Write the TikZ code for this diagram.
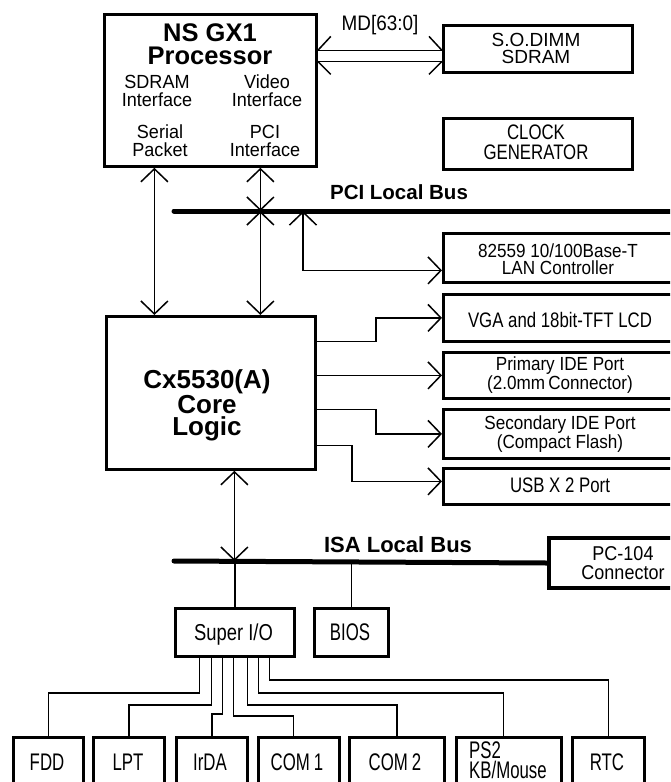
\documentclass[tikz,border=0pt]{standalone}
\usepackage{fontspec}
\setmainfont{Liberation Sans}
\newfontfamily\fsA{Liberation Sans}[FakeStretch=0.95]
\newfontfamily\fsB{Liberation Sans}[FakeStretch=0.9]
\newfontfamily\fsC{Liberation Sans}[FakeStretch=0.8]
\newfontfamily\fsD{Liberation Sans}[FakeStretch=0.7]
\usetikzlibrary{arrows.meta}
\newcommand\fsz[2]{\fontsize{#1}{#2}\selectfont}
\begin{document}
\begin{tikzpicture}[x=1pt,y=-1pt,
  box/.style={draw, line width=2.8pt, inner sep=0pt, anchor=north west},
  conn/.style={line width=1.5pt},
  arr/.style={conn, {Straight Barb[length=13pt,width=27pt]}-{Straight Barb[length=13pt,width=27pt]}},
  arrend/.style={conn, -{Straight Barb[length=13pt,width=27pt]}},
  bus/.style={line width=5pt, line cap=round},
  lbl/.style={inner sep=0pt, anchor=base, align=center},
  big/.style={lbl, font=\bfseries\fsz{25.5}{22.5}},
  busl/.style={lbl, font=\bfseries\fsz{20.5}{21}},
  inner/.style={lbl, font=\fsA\fsz{19}{18}},
  small/.style={lbl, font=\fsB\fsz{19}{17.5}},
  mid/.style={lbl, font=\fsC\fsz{21}{20}},
  tall/.style={lbl, font=\fsD\fsz{24}{20}}]
\useasboundingbox (0,0) rectangle (670,782);
\clip (0,0) rectangle (670,782);
\fill[white] (0,0) rectangle (670,782);

% boxes
\node[box, minimum width=212pt, minimum height=152pt] (gx1) at (103,13) {};
\node[box, minimum width=189pt, minimum height=47pt] (sdram) at (442,24) {};
\node[box, minimum width=189pt, minimum height=51pt] (clk) at (442,117) {};
\node[box, minimum width=234pt, minimum height=49pt] (lan) at (442,232) {};
\node[box, minimum width=234pt, minimum height=47pt] (vga) at (442,293) {};
\node[box, minimum width=234pt, minimum height=46pt] (pide) at (442,351) {};
\node[box, minimum width=234pt, minimum height=49pt] (side) at (442,408) {};
\node[box, minimum width=234pt, minimum height=36pt] (usb) at (442,467) {};
\node[box, minimum width=209pt, minimum height=153pt] (cx) at (105,315) {};
\node[box, line width=4pt, minimum width=153pt, minimum height=50pt] (pc104) at (547,536) {};
\node[box, minimum width=119pt, minimum height=48pt] (sio) at (174,607) {};
\node[box, minimum width=74pt, minimum height=48pt] (bios) at (313,607) {};
\node[box, minimum width=70pt, minimum height=54pt] (fdd) at (12,736) {};
\node[box, minimum width=71pt, minimum height=54pt] (lpt) at (92,736) {};
\node[box, minimum width=71pt, minimum height=54pt] (irda) at (175,736) {};
\node[box, minimum width=81pt, minimum height=54pt] (com1) at (257,736) {};
\node[box, minimum width=95pt, minimum height=54pt] (com2) at (348,736) {};
\node[box, minimum width=105pt, minimum height=54pt] (ps2) at (455,736) {};
\node[box, minimum width=72pt, minimum height=54pt] (rtc) at (571,736) {};

% labels (multi-line labels are placed at the baseline of their last line)
\node[big] (tgx) at (210,64.4) {NS GX1\\Processor};
\node[inner] (tsdi) at (157,106.8) {SDRAM\\Interface};
\node[inner] (tvid) at (267,106.8) {Video\\Interface};
\node[inner] (tser) at (160,156.8) {Serial\\Packet};
\node[inner] (tpcii) at (265,156.8) {PCI\\Interface};
\node[lbl, font=\fsB\fsz{21}{20}] (tmd) at (380,30.5) {MD[63:0]};
\node[lbl, font=\fsz{19}{17}] (tso) at (536,63.8) {S.O.DIMM\\SDRAM};
\node[mid] (tclk) at (536,159.5) {CLOCK\\GENERATOR};
\node[busl] (tpci) at (399,199.3) {PCI Local Bus};
\node[small] (tlan) at (558,274.8) {82559 10/100Base-T\\LAN Controller};
\node[mid] (tvga) at (560,327.5) {VGA and 18bit-TFT LCD};
\node[small] (tpide) at (560,389.5) {Primary IDE Port\\(2.0mm\,Connector)};
\node[small] (tside) at (560,448.6) {Secondary IDE Port\\(Compact Flash)};
\node[mid] (tusb) at (560,492.2) {USB X 2 Port};
\node[big, font=\bfseries\fsz{26}{22.5}] (tcx) at (207,435.8) {Cx5530(A)\\Core\\Logic};
\node[busl, font=\bfseries\fsz{22}{21}] (tisa) at (398,552.9) {ISA Local Bus};
\node[lbl, font=\fsB\fsz{20}{19}] (tpc) at (623,579.2) {PC-104\\Connector};
\node[lbl, font=\fsC\fsz{23}{20}] (tsio) at (233.5,640.2) {Super I/O};
\node[tall] (tbios) at (350,640.6) {BIOS};
\node[tall] (tfdd) at (47,770.6) {FDD};
\node[tall] (tlpt) at (128,770.6) {LPT};
\node[tall] (tirda) at (210,770.6) {IrDA};
\node[tall] (tcom1) at (297,770.6) {COM\,1};
\node[tall] (tcom2) at (395,770.6) {COM\,2};
\node[tall, anchor=base west, align=left] (tps2) at (469,778.4) {PS2\\KB/Mouse};
\node[tall] (trtc) at (607,770.6) {RTC};

% MD double bus
\coordinate (mdT) at ([yshift=-1.5pt]sdram.west);
\coordinate (mdB) at ([yshift=-12.5pt]sdram.west);
\draw[conn] (gx1.east |- mdT) -- (mdT);
\draw[conn] (gx1.east |- mdB) -- (mdB);
\draw[conn] (gx1.east |- mdT) -- ++(13,-14);
\draw[conn] (gx1.east |- mdB) -- ++(13,13);
\draw[conn] (mdT) -- ++(-13,-14);
\draw[conn] (mdB) -- ++(-13,13);

% PCI bus
\coordinate (pciL) at (174,211);
\coordinate (pciR) at (700,211);
\draw[bus] (pciL) -- (pciR);

% GX1 <-> Cx5530
\coordinate (g1) at ([xshift=-56pt]gx1.south);
\coordinate (g2) at ([xshift=50pt]gx1.south);
\draw[arr] (g1) -- (g1 |- cx.north);
\draw[arr] (g2) -- (g2 |- pciL);
\draw[arr] (g2 |- pciL) -- (g2 |- cx.north);

% LAN
\coordinate (lanx) at (303,211);
\draw[arr] (lanx) |- ([yshift=-12.5pt]lan.west);

% Cx outputs
\draw[arrend] ([yshift=51.5pt]cx.east) -- ++(59,0) |- (vga.west);
\draw[arrend] (cx.east |- pide.west) -- (pide.west);
\draw[arrend] ([yshift=-16.5pt]cx.east) -- ++(59,0) |- (side.west);
\draw[arrend] ([yshift=-52.5pt]cx.east) -- ++(35,0) |- ([yshift=5pt]usb.west);

% ISA bus
\coordinate (isaL) at (174,561);
\coordinate (c3) at ([xshift=23.5pt]cx.south);
\draw[bus] (isaL) -- (pc104.west);
\draw[arr] (c3) -- (c3 |- isaL);
\draw[conn] (sio.north |- isaL) -- (sio.north);
\draw[conn] (bios.north |- isaL) -- (bios.north);

% Super I/O fan-out
\draw[conn] ([xshift=-35.5pt]sio.south) -- ++(0,35) -| (fdd.north);
\draw[conn] ([xshift=-23.5pt]sio.south) -- ++(0,47) -| (lpt.north);
\draw[conn] ([xshift=-12.5pt]sio.south) -- ++(0,56) -| (irda.north);
\draw[conn] ([xshift=-1.5pt]sio.south) -- ++(0,58) -| ([xshift=-5.5pt]com1.north);
\draw[conn] ([xshift=12.5pt]sio.south) -- ++(0,47) -| (com2.north);
\draw[conn] ([xshift=23.5pt]sio.south) -- ++(0,35) -| ([xshift=-5.5pt]ps2.north);
\draw[conn] ([xshift=34.5pt]sio.south) -- ++(0,22) -| (rtc.north);
\end{tikzpicture}
\end{document}
